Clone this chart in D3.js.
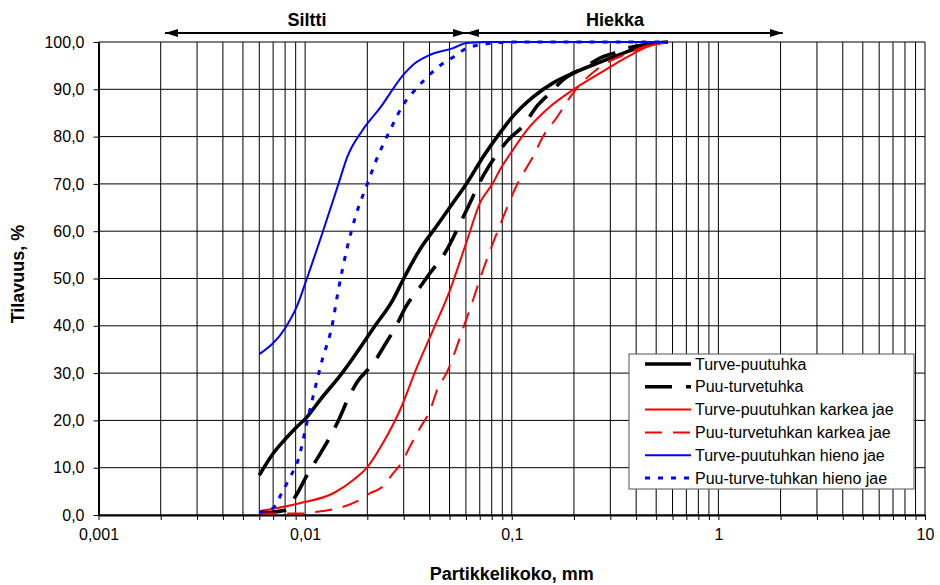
<!DOCTYPE html>
<html>
<head>
<meta charset="utf-8">
<script src="https://cdn.jsdelivr.net/npm/d3@7"></script>
<style>
  body { margin: 0; background: #fff; }
  text { font-family: "Liberation Sans", Arial, sans-serif; }
</style>
</head>
<body>
<div id="chart"></div>
<script>
let width = 940,
    height = 585,
    margin = {top: 42, right: 15, bottom: 70, left: 98.5};

// particle size (mm), cumulative volume (%)
const turvePuutuhka = [
  [0.006, 8.4], [0.007, 13], [0.008, 16], [0.009, 18.4], [0.0102, 20.7], [0.0118, 24.3],
  [0.0151, 30], [0.0218, 40], [0.0266, 45.5], [0.03, 50], [0.036, 56.2], [0.0435, 61.2],
  [0.052, 66], [0.0607, 70.2], [0.0726, 75.7], [0.0877, 80.8], [0.1, 84],
  [0.127, 88.4], [0.158, 91.3], [0.2, 93.5], [0.27, 95.8], [0.36, 97.9], [0.45, 99.4], [0.57, 100]
];
const puuTurvetuhka = [
  [0.006, 0.4], [0.008, 1.0], [0.009, 4], [0.0103, 8.7], [0.0114, 11.8], [0.0132, 16.5],
  [0.0144, 19.7], [0.0163, 25], [0.0178, 28], [0.0216, 32.3], [0.0238, 35.3], [0.0279, 40.4],
  [0.0305, 43.8], [0.036, 48.2], [0.0403, 51.2], [0.0475, 55.4], [0.0594, 63.8], [0.0734, 72],
  [0.0878, 77.2], [0.098, 79.7], [0.112, 82], [0.134, 86.7], [0.153, 89.2], [0.177, 92],
  [0.226, 94.7], [0.267, 96.6], [0.316, 97.7], [0.361, 98.7], [0.45, 99.5], [0.57, 100]
];
const turveKarkea = [
  [0.006, 0.8], [0.0094, 2.5], [0.0137, 4.6], [0.0171, 7.4], [0.02, 10.1], [0.0238, 15.2],
  [0.0288, 22.2], [0.0348, 31.3], [0.0416, 39.1], [0.05, 47.3], [0.0607, 58], [0.0702, 66],
  [0.0811, 70.2], [0.0877, 73], [0.1014, 77.2], [0.1186, 81.4], [0.153, 86.3], [0.198, 89.9],
  [0.267, 93.4], [0.361, 96.8], [0.452, 99], [0.57, 100]
];
const puuKarkea = [
  [0.006, 0.3], [0.0095, 0.3], [0.0112, 0.6], [0.0184, 3.2], [0.0206, 4.6], [0.0236, 5.9],
  [0.0263, 8.5], [0.0298, 11.6], [0.0315, 13.7], [0.036, 18.4], [0.0403, 22.2], [0.0435, 26.4],
  [0.0486, 30.2], [0.0582, 39.5], [0.065, 45.5], [0.0726, 51.8], [0.083, 58.6], [0.0898, 62.4],
  [0.0949, 65], [0.1014, 68], [0.107, 70.2], [0.1186, 73.6], [0.1267, 75.7], [0.1416, 80],
  [0.1656, 84.1], [0.198, 89.2], [0.267, 94.7], [0.36, 97.5], [0.45, 99.2], [0.57, 100]
];
const turveHieno = [
  [0.006, 34], [0.008, 39.5], [0.0091, 44], [0.0102, 50], [0.0122, 60], [0.0145, 70],
  [0.016, 75.7], [0.019, 81.4], [0.023, 86], [0.0298, 93], [0.034, 95.5], [0.0403, 97.3],
  [0.052, 98.7], [0.0607, 99.8], [0.08, 100], [0.2, 100], [0.57, 100]
];
const puuHieno = [
  [0.006, 0.6], [0.007, 1.5], [0.0077, 4.6], [0.00845, 8], [0.00925, 11.6], [0.0102, 19.5],
  [0.0112, 27], [0.0121, 32.8], [0.0135, 40], [0.0144, 47], [0.016, 56.6], [0.0175, 63],
  [0.02, 70], [0.0218, 74.4], [0.0258, 81.4], [0.0298, 86.7], [0.0348, 90.3], [0.044, 94.7],
  [0.052, 96.8], [0.0607, 98.7], [0.0702, 99.4], [0.1, 100], [0.57, 100]
];

const seriesNames = [
  "Turve-puutuhka", "Puu-turvetuhka", "Turve-puutuhkan karkea jae",
  "Puu-turvetuhkan karkea jae", "Turve-puutuhkan hieno jae", "Puu-turve-tuhkan hieno jae"
];
const seriesData = [turvePuutuhka, puuTurvetuhka, turveKarkea, puuKarkea, turveHieno, puuHieno];

const xMajor = [0.001, 0.01, 0.1, 1, 10];
const yTicks = [0, 10, 20, 30, 40, 50, 60, 70, 80, 90, 100];

// size classes shown above the plot: [label, from, to, label position]
const classes = [["Siltti", 0.0021, 0.06, 0.0102], ["Hiekka", 0.06, 2.05, 0.316]];

const styles = [
  {color: "#000", w: 3.6, dash: null},
  {color: "#000", w: 3.6, dash: "27,14"},
  {color: "#ff0000", w: 2, dash: null},
  {color: "#ff0000", w: 2, dash: "17,11"},
  {color: "#0000ff", w: 2, dash: null},
  {color: "#0000ff", w: 3, dash: "5,8"}
];

const svg = d3.select("#chart")
    .append("svg")
    .attr("width", width)
    .attr("height", height);

var x = d3.scaleLog().domain([0.001, 10]).range([margin.left, width - margin.right]),
    y = d3.scaleLinear().domain([0, 100]).range([height - margin.bottom, margin.top]);

// all log ticks 1..9 per decade
var xAll = [];
xMajor.slice(0, -1).forEach(function(d) {
  for (var k = 1; k < 10; k++) xAll.push(+(d * k).toPrecision(3));
});
xAll.push(10);

var grid = svg.append("g").attr("stroke", "#000").attr("stroke-width", 1);
grid.selectAll(".vg").data(xAll).enter().append("line")
    .attr("x1", d => x(d)).attr("x2", d => x(d))
    .attr("y1", y(0)).attr("y2", y(100));
grid.selectAll(".hg").data(yTicks).enter().append("line")
    .attr("x1", x(0.001)).attr("x2", x(10))
    .attr("y1", d => y(d)).attr("y2", d => y(d));

// axes
var xAxis = svg.append("g")
    .attr("transform", "translate(0," + y(0) + ")")
    .call(d3.axisBottom(x).tickValues(xAll).tickSize(5).tickSizeOuter(0)
      .tickFormat(d => xMajor.includes(d) ? String(d).replace(".", ",") : ""));
var yAxis = svg.append("g")
    .attr("transform", "translate(" + x(0.001) + ",0)")
    .call(d3.axisLeft(y).tickValues(yTicks).tickSize(5).tickSizeOuter(0)
      .tickFormat(d => d.toFixed(1).replace(".", ",")));

[xAxis, yAxis].forEach(function(a) {
  a.select(".domain").attr("stroke", "#000").attr("stroke-width", 2);
  a.selectAll(".tick line").attr("stroke", "#000");
  a.selectAll(".tick text").attr("fill", "#000")
    .style("font-size", "16px").style("font-family", '"Liberation Sans", Arial, sans-serif');
});
xAxis.selectAll(".tick text").attr("y", 14);
yAxis.selectAll(".tick text").attr("x", -14);

// axis titles
svg.append("text")
    .attr("x", (x.range()[0] + x.range()[1]) / 2)
    .attr("y", 580)
    .attr("text-anchor", "middle")
    .style("font-size", "18px").style("font-weight", "bold")
    .text("Partikkelikoko, mm");
svg.append("text")
    .attr("transform", "translate(24,274) rotate(-90)")
    .attr("text-anchor", "middle")
    .style("font-size", "18px").style("font-weight", "bold")
    .text("Tilavuus, %");

// size class arrows
var defs = svg.append("defs");
defs.append("marker").attr("id", "arr")
    .attr("viewBox", "0 0 13 8").attr("refX", 13).attr("refY", 4)
    .attr("markerWidth", 13).attr("markerHeight", 8)
    .attr("markerUnits", "userSpaceOnUse").attr("orient", "auto-start-reverse")
  .append("path").attr("d", "M0,0L13,4L0,8Z").attr("fill", "#000");

var cls = svg.selectAll(".cls").data(classes).enter().append("g");
cls.append("line")
    .attr("x1", d => x(d[1])).attr("x2", d => x(d[2]))
    .attr("y1", 33).attr("y2", 33)
    .attr("stroke", "#000").attr("stroke-width", 2)
    .attr("marker-start", "url(#arr)").attr("marker-end", "url(#arr)");
cls.append("text")
    .attr("x", d => x(d[3])).attr("y", 26)
    .attr("text-anchor", "middle")
    .style("font-size", "18px").style("font-weight", "bold")
    .text(d => d[0]);

// curves
var line = d3.line()
    .x(d => x(d[0]))
    .y(d => y(d[1]))
    .curve(d3.curveMonotoneX);

svg.selectAll(".series").data(seriesData).enter().append("path")
    .attr("fill", "none")
    .attr("stroke", (d, i) => styles[i].color)
    .attr("stroke-width", (d, i) => styles[i].w)
    .attr("stroke-dasharray", (d, i) => styles[i].dash)
    .attr("stroke-linejoin", "round")
    .attr("d", line);

// legend
var lg = svg.append("g").attr("transform", "translate(629,354)");
lg.append("rect").attr("width", 285).attr("height", 135)
    .attr("fill", "#fff").attr("stroke", "#555").attr("stroke-width", 1);
var item = lg.selectAll(".item").data(seriesNames).enter().append("g")
    .attr("transform", (d, i) => "translate(0," + (10 + i * 22.8) + ")");
item.append("line")
    .attr("x1", 16).attr("x2", 62)
    .attr("stroke", (d, i) => styles[i].color)
    .attr("stroke-width", (d, i) => styles[i].w)
    .attr("stroke-dasharray", (d, i) => styles[i].dash);
item.append("text")
    .attr("x", 66).attr("dy", "0.35em")
    .style("font-size", "16px")
    .text(d => d);
</script>
</body>
</html>
